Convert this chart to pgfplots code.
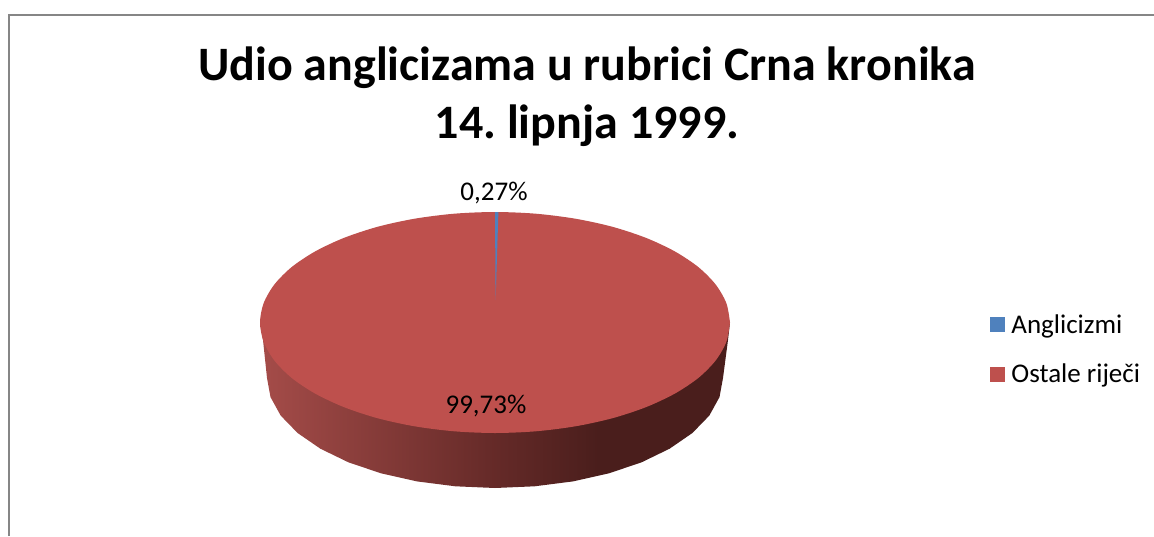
\documentclass[border=0pt]{standalone}
\usepackage{pgfplots}
\pgfplotsset{compat=1.18}
\usepackage{fontspec}
\setmainfont{Carlito}
\definecolor{pieblue}{HTML}{4F81BD}
\definecolor{piered}{HTML}{BE504D}
\definecolor{sidea}{HTML}{A54C49}
\definecolor{sideb}{HTML}{652A28}
\definecolor{sidec}{HTML}{4A1E1C}
\definecolor{frameg}{HTML}{868686}
\pgfdeclarehorizontalshading{pieside}{100bp}{color(0bp)=(sidea); color(25bp)=(sidea); color(50bp)=(sideb); color(61bp)=(sidec); color(100bp)=(sidec)}
\frenchspacing
\begin{document}
\begin{tikzpicture}
\useasboundingbox (0,0) rectangle (1154pt,536pt);
\begin{axis}[
  scale only axis, width=1154pt, height=536pt,
  xmin=0, xmax=1154, ymin=0, ymax=536, y dir=reverse,
  axis lines=none, ticks=none, clip=true,
  legend style={draw=none, fill=none, at={(axis cs:990,349.5)}, anchor=west,
    font=\fontsize{27}{32}\selectfont, row sep=25pt, inner sep=0pt,
    /tikz/every even column/.style={column sep=7pt}},
  legend cell align=left,
  legend image code/.code={\fill[#1,draw=none] (0pt,-7.5pt) rectangle (15pt,7.5pt); \path (19pt,0pt);},
]
% frame
\addplot[frameg, line width=2pt, forget plot] coordinates {(9,536)(9,15)};
\addplot[frameg, line width=1.7pt, forget plot] coordinates {(8,14.8)(1154,14.8)};
% side wall
\addplot[shade, shading=pieside, draw=none, forget plot] coordinates {
(730,322.5)(728,340)(723,378)(719.5,397.1)(709.3,415.6)(692.4,433)(669.6,448.7)(641.6,462.3)(609,473.3)(573,481.4)(534.6,486.3)(495,488)(455.4,486.3)(417,481.4)(381,473.3)(348.4,462.3)(320.4,448.7)(297.6,433)(280.7,415.6)(270.5,397.1)(267,378)(263,340)(260,322.5)
} -- cycle;
% top of the large slice
\addplot[fill=piered, draw=none, smooth, forget plot] coordinates {
(730,322.5)(726.4,303.3)(715.8,284.7)(698.5,267.2)(675,251.5)(646.1,237.9)(612.5,226.8)(575.4,218.7)(535.8,213.7)(495,212)(454.2,213.7)(414.6,218.7)(377.5,226.8)(343.9,237.9)(315,251.5)(291.5,267.2)(274.2,284.7)(263.6,303.3)(260,322.5)(263.6,341.7)(274.2,360.3)(291.5,377.8)(315,393.5)(343.9,407.1)(377.5,418.2)(414.6,426.3)(454.2,431.3)(495,433)(535.8,431.3)(575.4,426.3)(612.5,418.2)(646.1,407.1)(675,393.5)(698.5,377.8)(715.8,360.3)(726.4,341.7)(730,322.5)
} -- cycle;
% small slice
\addplot[fill=pieblue, draw=none, forget plot] coordinates {(495,212)(498.4,212)(495.6,300)} -- cycle;
\addlegendimage{fill=pieblue}
\addlegendentry{Anglicizmi}
\addlegendimage{fill=piered}
\addlegendentry{Ostale riječi}
\node[align=center, font=\fontsize{48}{58}\selectfont\bfseries] at (axis cs:587,97) {Udio anglicizama u rubrici Crna kronika\\14. lipnja 1999.};
\node[font=\fontsize{27}{32}\selectfont] at (axis cs:494,193) {0,27\%};
\node[font=\fontsize{27}{32}\selectfont] at (axis cs:486,406) {99,73\%};
\end{axis}
\end{tikzpicture}
\end{document}
